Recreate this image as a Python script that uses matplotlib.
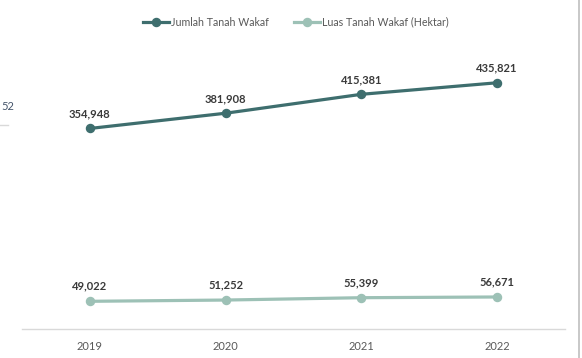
import matplotlib
matplotlib.use("Agg")
import matplotlib.pyplot as plt
from matplotlib.lines import Line2D

years = ["2019", "2020", "2021", "2022"]
jumlah_tanah = [354948, 381908, 415381, 435821]
luas_tanah = [49022, 51252, 55399, 56671]
series_names = ["Jumlah Tanah Wakaf", "Luas Tanah Wakaf (Hektar)"]

dark_teal = "#3E6E6E"
light_teal = "#9DC1B6"
label_col = "#3A3A3A"
tick_col = "#595959"

plt.rcParams["font.family"] = ["Lato", "DejaVu Sans"]

W, H = 582, 358
fig = plt.figure(figsize=(W / 100, H / 100), dpi=100)
ax = fig.add_axes([22 / W, (H - 329) / H, (565 - 22) / W, (329 - 46.5) / H])

x = list(range(len(years)))
ax.plot(x, jumlah_tanah, color=dark_teal, lw=2.3, marker="o", ms=5.8,
        solid_capstyle="round", zorder=3)
ax.plot(x, luas_tanah, color=light_teal, lw=2.3, marker="o", ms=5.8,
        solid_capstyle="round", zorder=3)

for xi, v in zip(x, jumlah_tanah):
    ax.annotate(f"{v:,}", (xi, v), xytext=(0, 10.5), textcoords="offset points",
                ha="center", va="center", fontsize=8, fontweight="bold",
                color=label_col)
for xi, v in zip(x, luas_tanah):
    ax.annotate(f"{v:,}", (xi, v), xytext=(0, 11), textcoords="offset points",
                ha="center", va="center", fontsize=8, fontweight="bold",
                color=label_col)

ax.set_xlim(-0.5, 3.5)
ax.set_ylim(0, 500000)
ax.set_xticks(x)
ax.set_xticklabels(years)
ax.set_yticks([])
ax.tick_params(axis="x", length=0, pad=9, labelsize=8, labelcolor=tick_col)
for s in ["top", "right", "left"]:
    ax.spines[s].set_visible(False)
ax.spines["bottom"].set_color("#D9D9D9")
ax.spines["bottom"].set_linewidth(1.0)

handles = [
    Line2D([], [], color=dark_teal, lw=2.3, marker="o", ms=5.8),
    Line2D([], [], color=light_teal, lw=2.3, marker="o", ms=5.8),
]
fig.legend(handles, series_names, loc="center", bbox_to_anchor=(296 / W, 1 - 22 / H),
           ncol=2, frameon=False, fontsize=7.7, handlelength=2.4,
           handletextpad=0.2, columnspacing=2.4, labelcolor=tick_col)

# frame edge on the right and neighbouring element on the left
fig.add_artist(Line2D([579 / W, 579 / W], [0, 1], color="#BFBFBF", lw=1.2))
fig.add_artist(Line2D([0, 8 / W], [1 - 125 / H, 1 - 125 / H], color="#D9D9D9", lw=1.0))
fig.text(1 / W, 1 - 106 / H, "52", ha="left", va="center", fontsize=8,
         color="#44546A")

fig.savefig("out.png", dpi=100)
